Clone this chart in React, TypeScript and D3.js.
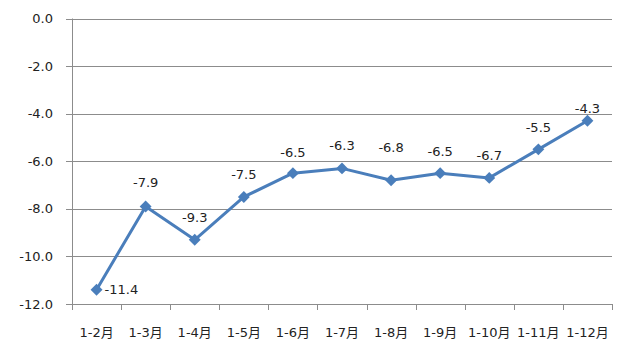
import React, { useEffect, useRef } from 'react';
import * as d3 from 'd3';

const categories = ['1-2月', '1-3月', '1-4月', '1-5月', '1-6月', '1-7月', '1-8月', '1-9月', '1-10月', '1-11月', '1-12月'];
const values = [-11.4, -7.9, -9.3, -7.5, -6.5, -6.3, -6.8, -6.5, -6.7, -5.5, -4.3];
const yTicks = [0, -2, -4, -6, -8, -10, -12];
// label placement tweaks (vertical offset from the point)
const labelDy = [0, -24, -22, -22, -21, -23, -33, -22, -22, -22, -12];

const App = () => {
  const ref = useRef<SVGSVGElement>(null);

  useEffect(() => {
    const svg = d3.select(ref.current);
    svg.selectAll('*').remove();

    const left = 72, right = 612, top = 18.5, bottom = 304;
    const font = "'DejaVu Sans', 'Noto Sans CJK SC', sans-serif";
    const blue = '#4a7ebb';

    const x = d3.scaleBand().domain(categories).range([left, right]);
    const y = d3.scaleLinear().domain([-12, 0]).range([bottom, top]);

    // gridlines
    svg.append('g')
      .selectAll('line')
      .data(yTicks)
      .join('line')
      .attr('x1', left - 6)
      .attr('x2', right)
      .attr('y1', d => Math.round(y(d)) + 0.5)
      .attr('y2', d => Math.round(y(d)) + 0.5)
      .attr('stroke', '#8c8c8c')
      .attr('stroke-width', 1);

    svg.append('g')
      .selectAll('text')
      .data(yTicks)
      .join('text')
      .attr('x', 53)
      .attr('y', d => y(d))
      .attr('dy', '0.35em')
      .attr('text-anchor', 'end')
      .attr('font-family', font)
      .attr('font-size', 13)
      .attr('fill', '#222')
      .text(d => d.toFixed(1));

    // y axis line
    svg.append('line')
      .attr('x1', left + 0.5).attr('x2', left + 0.5)
      .attr('y1', top).attr('y2', bottom)
      .attr('stroke', '#8c8c8c');

    // x ticks
    const tickXs = categories.map(c => x(c) as number).concat([right]);
    svg.append('g')
      .selectAll('line')
      .data(tickXs)
      .join('line')
      .attr('x1', d => Math.round(d) + 0.5)
      .attr('x2', d => Math.round(d) + 0.5)
      .attr('y1', bottom)
      .attr('y2', bottom + 6)
      .attr('stroke', '#8c8c8c');

    svg.append('g')
      .selectAll('text')
      .data(categories)
      .join('text')
      .attr('x', d => (x(d) as number) + x.bandwidth() / 2)
      .attr('y', 332)
      .attr('dy', '0.35em')
      .attr('text-anchor', 'middle')
      .attr('font-family', font)
      .attr('font-size', 13)
      .attr('fill', '#222')
      .text(d => d);

    const cx = (i: number) => (x(categories[i]) as number) + x.bandwidth() / 2;

    const line = d3.line<number>()
      .x((_, i) => cx(i))
      .y(d => y(d));

    svg.append('path')
      .datum(values)
      .attr('d', line)
      .attr('fill', 'none')
      .attr('stroke', blue)
      .attr('stroke-width', 3)
      .attr('stroke-linejoin', 'round');

    const sym = d3.symbol().type(d3.symbolDiamond2).size(90);
    svg.append('g')
      .selectAll('path')
      .data(values)
      .join('path')
      .attr('d', sym)
      .attr('transform', (d, i) => `translate(${cx(i)},${y(d)})`)
      .attr('fill', blue);

    svg.append('g')
      .selectAll('text')
      .data(values)
      .join('text')
      .attr('x', (d, i) => (i === 0 ? cx(i) + 8 : cx(i)))
      .attr('y', (d, i) => y(d) + labelDy[i])
      .attr('dy', '0.35em')
      .attr('text-anchor', (d, i) => (i === 0 ? 'start' : 'middle'))
      .attr('font-family', font)
      .attr('font-size', 13)
      .attr('fill', '#222')
      .text(d => d.toFixed(1));
  }, []);

  return (
    <svg ref={ref} width={632} height={360} style={{ position: 'absolute', left: 0, top: 0, background: '#fff' }}></svg>
  );
};

export default App;
